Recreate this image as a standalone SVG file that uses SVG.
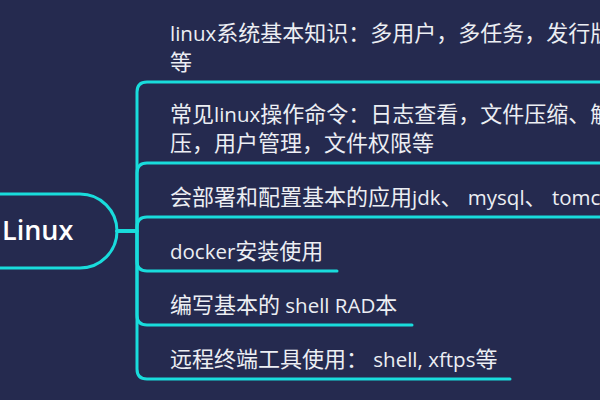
<svg xmlns="http://www.w3.org/2000/svg" width="600" height="400" viewBox="0 0 600 400">
<style>
.bg{fill:#252a4f}
.edge{fill:none;stroke:#19dcdc;stroke-width:3;stroke-linecap:round;stroke-linejoin:round}
.root{fill:none;stroke:#19dcdc;stroke-width:3}
.t{font-family:"Open Sans","Noto Sans CJK SC",sans-serif;font-size:22px;fill:#eceef3}
.l{font-size:20.5px}
.rt{font-family:"Open Sans","Noto Sans CJK SC",sans-serif;font-size:27px;font-weight:600;fill:#ffffff}
</style>
<rect class="bg" x="0" y="0" width="600" height="400"/>
<g id="connectors">
<path class="edge" d="M117,231 H137 V92 Q137,82 147,82 H602"/>
<path class="edge" d="M117,231 H137 V173 Q137,163 147,163 H602"/>
<path class="edge" d="M117,231 H137 V227 Q137,217 147,217 H602"/>
<path class="edge" d="M117,231 H137 V261 Q137,271 147,271 H337"/>
<path class="edge" d="M117,231 H137 V315 Q137,325 147,325 H412"/>
<path class="edge" d="M117,231 H137 V369 Q137,379 147,379 H510"/>
</g>
<g id="root">
<rect class="root" x="-100" y="194" width="217" height="74" rx="37" ry="37"/>
<text class="rt" x="2" y="240">Linux</text>
</g>
<g id="n1">
<text class="t" x="170" y="41"><tspan class="l">linux</tspan>系统基本知识：多用户，多任务，发行版</text>
<text class="t" x="170" y="70">等</text>
</g>
<g id="n2">
<text class="t" x="170" y="122">常见<tspan class="l">linux</tspan>操作命令：日志查看，文件压缩、解</text>
<text class="t" x="170" y="151">压，用户管理，文件权限等</text>
</g>
<g id="n3">
<text class="t" x="170" y="205">会部署和配置基本的应用<tspan class="l">jdk</tspan>、<tspan class="l"> mysql</tspan>、<tspan class="l"> tomcat</tspan></text>
</g>
<g id="n4">
<text class="t" x="170" y="259"><tspan class="l">docker</tspan>安装使用</text>
</g>
<g id="n5">
<text class="t" x="170" y="313">编写基本的<tspan class="l"> shell RAD</tspan>本</text>
</g>
<g id="n6">
<text class="t" x="170" y="367">远程终端工具使用：<tspan class="l"> shell, xftps</tspan>等</text>
</g>
</svg>
